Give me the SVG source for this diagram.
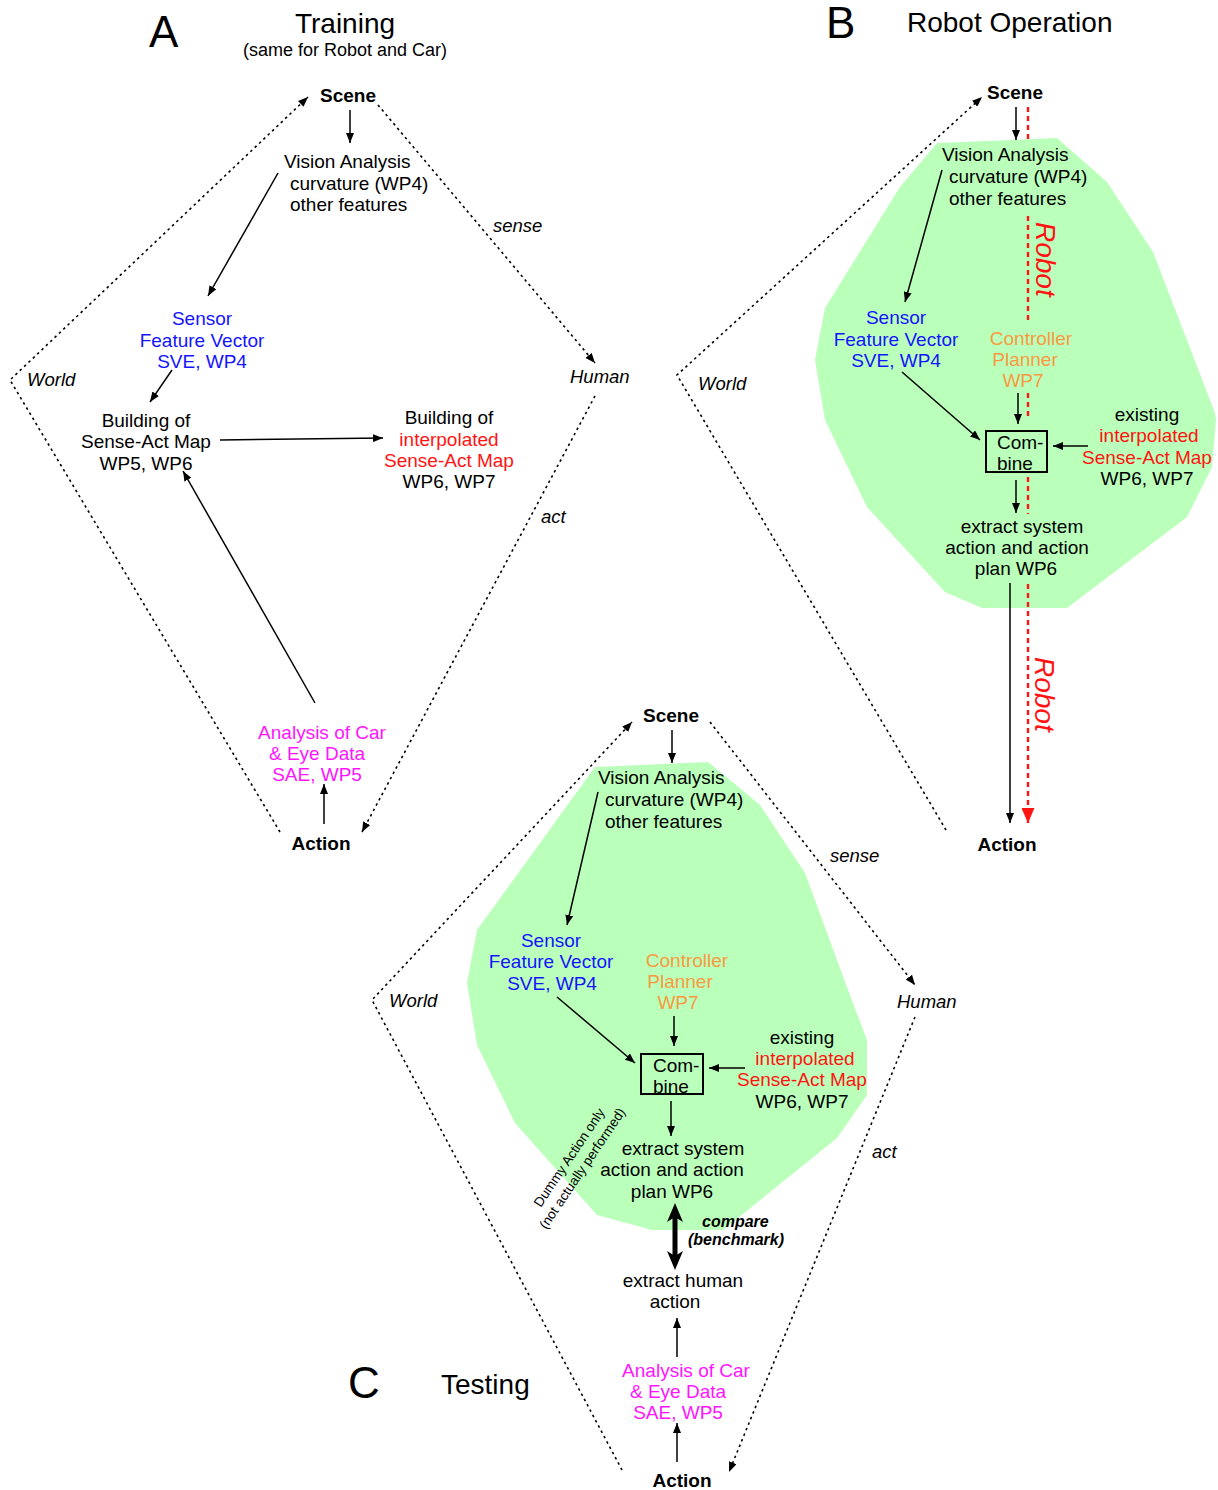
<svg xmlns="http://www.w3.org/2000/svg" width="1218" height="1490" viewBox="0 0 1218 1490">
  <style>
    text { font-family: "Liberation Sans", Arial, sans-serif; font-size: 19px; fill: #000; }
    .c { text-anchor: middle; }
    .bold { font-weight: bold; }
    .it { font-style: italic; font-size: 18.5px; }
    .letter { font-size: 44px; }
    .title { font-size: 28px; }
    .blue { fill: #1414ff; }
    .red { fill: #ff1414; }
    .mag { fill: #ff14ff; }
    .orange { fill: #f99a42; }
    .small { font-size: 13.5px; }
    .cmp { font-size: 16px; font-weight: bold; font-style: italic; }
    .robot { font-size: 28px; font-style: italic; fill: #ff1414; }
    .arrow { stroke: #000; stroke-width: 1.5; fill: none; marker-end: url(#ah); }
    .dot { stroke: #000; stroke-width: 1.6; fill: none; stroke-dasharray: 2.5 3.5; }
    .dota { marker-end: url(#ah); }
    .rdash { stroke: #ff1414; stroke-width: 2.4; fill: none; stroke-dasharray: 5 4; }
    .zone { fill: #baffba; stroke: none; }
    .box { fill: none; stroke: #000; stroke-width: 2; }
  </style>
  <defs>
    <marker id="ah" viewBox="0 0 10 8" refX="10" refY="4" markerWidth="10" markerHeight="8" orient="auto" markerUnits="userSpaceOnUse">
      <path d="M0,0 L10,4 L0,8 z" fill="#000"/>
    </marker>
    <marker id="ahr" viewBox="0 0 15 13" refX="15" refY="6.5" markerWidth="15" markerHeight="13" orient="auto" markerUnits="userSpaceOnUse">
      <path d="M0,0 L15,6.5 L0,13 z" fill="#ff1414"/>
    </marker>
  </defs>

  <!-- shaded system regions -->
  <g id="zone-b">
    <polygon class="zone" points="937,143 1057,138 1107,182 1153,252 1215,413 1216,420 1212,467 1187,517 1067,608 982,608 945,592 867,507 825,420 815,360 825,308 900,187"/>
  </g>
  <g id="zone-c">
    <polygon class="zone" points="595,767 708,762 760,805 805,873 848,990 867,1040 867,1095 837,1138 723,1230 652,1230 597,1215 515,1123 477,1045 467,983 477,930"/>
  </g>

  <!-- connectors -->
  <g id="connectors">
    <!-- A: world loop -->
    <polyline class="dot dota" points="280,832 10,380 308,97"/>
    <line class="dot dota" x1="378" y1="105" x2="595" y2="363"/>
    <line class="dot dota" x1="595" y1="396" x2="362" y2="832"/>
    <!-- A: processing -->
    <line class="arrow" x1="350" y1="110" x2="350" y2="143"/>
    <line class="arrow" x1="278" y1="173" x2="208" y2="296"/>
    <line class="arrow" x1="172" y1="370" x2="150" y2="402"/>
    <line class="arrow" x1="220" y1="440" x2="383" y2="438"/>
    <line class="arrow" x1="315" y1="703" x2="183" y2="471"/>
    <line class="arrow" x1="324" y1="824" x2="324" y2="784"/>

    <!-- B: world loop -->
    <polyline class="dot dota" points="946,830 677,375 982,97"/>
    <!-- B: processing -->
    <line class="arrow" x1="1016" y1="107" x2="1016" y2="140"/>
    <line class="arrow" x1="942" y1="170" x2="905" y2="302"/>
    <line class="arrow" x1="902" y1="372" x2="980" y2="440"/>
    <line class="arrow" x1="1018" y1="393" x2="1018" y2="424"/>
    <line class="arrow" x1="1088" y1="446" x2="1053" y2="446"/>
    <line class="arrow" x1="1016" y1="480" x2="1016" y2="513"/>
    <line class="arrow" x1="1010" y1="583" x2="1010" y2="823"/>
    <!-- B: robot path -->
    <line class="rdash" x1="1028" y1="107" x2="1028" y2="140"/>
    <line class="rdash" x1="1028" y1="216" x2="1028" y2="324"/>
    <line class="rdash" x1="1028" y1="393" x2="1028" y2="420"/>
    <line class="rdash" x1="1028" y1="477" x2="1028" y2="514"/>
    <line class="rdash" x1="1028" y1="584" x2="1028" y2="823" marker-end="url(#ahr)"/>

    <!-- C: world loop -->
    <polyline class="dot dota" points="622,1470 372,1000 632,722"/>
    <line class="dot dota" x1="710" y1="722" x2="915" y2="985"/>
    <line class="dot dota" x1="915" y1="1017" x2="729" y2="1472"/>
    <!-- C: processing -->
    <line class="arrow" x1="672" y1="730" x2="672" y2="763"/>
    <line class="arrow" x1="598" y1="792" x2="567" y2="925"/>
    <line class="arrow" x1="557" y1="997" x2="635" y2="1063"/>
    <line class="arrow" x1="674" y1="1016" x2="674" y2="1046"/>
    <line class="arrow" x1="745" y1="1068" x2="709" y2="1068"/>
    <line class="arrow" x1="671" y1="1101" x2="671" y2="1136"/>
    <line class="arrow" x1="677" y1="1357" x2="677" y2="1318"/>
    <line class="arrow" x1="677" y1="1462" x2="677" y2="1423"/>
    <!-- C: benchmark comparison -->
    <line x1="675" y1="1216" x2="675" y2="1257" stroke="#000" stroke-width="5"/>
    <path d="M675,1203 L683,1222 L675,1217 L667,1222 z" fill="#000"/>
    <path d="M675,1270 L683,1251 L675,1256 L667,1251 z" fill="#000"/>
  </g>

  <!-- panel headings -->
  <g id="heading-a">
    <text class="letter" x="149" y="47">A</text>
    <text class="title c" x="345" y="33">Training</text>
    <text class="c" x="345" y="56" style="font-size:18px">(same for Robot and Car)</text>
  </g>
  <g id="heading-b">
    <text class="letter" x="826" y="38">B</text>
    <text class="title" x="907" y="32">Robot Operation</text>
  </g>
  <g id="heading-c">
    <text class="letter" x="348" y="1398">C</text>
    <text class="title" x="441" y="1394">Testing</text>
  </g>

  <!-- panel A nodes -->
  <g id="a-scene"><text class="c bold" x="348" y="102">Scene</text></g>
  <g id="a-vision">
    <text x="284" y="168">Vision Analysis</text>
    <text x="290" y="190">curvature (WP4)</text>
    <text x="290" y="211">other features</text>
  </g>
  <g id="a-sensor">
    <text class="c blue" x="202" y="325">Sensor</text>
    <text class="c blue" x="202" y="347">Feature Vector</text>
    <text class="c blue" x="202" y="368">SVE, WP4</text>
  </g>
  <g id="a-build">
    <text class="c" x="146" y="427">Building of</text>
    <text class="c" x="146" y="448">Sense-Act Map</text>
    <text class="c" x="146" y="470">WP5, WP6</text>
  </g>
  <g id="a-interp">
    <text class="c" x="449" y="424">Building of</text>
    <text class="c red" x="449" y="446">interpolated</text>
    <text class="c red" x="449" y="467">Sense-Act Map</text>
    <text class="c" x="449" y="488">WP6, WP7</text>
  </g>
  <g id="a-analysis">
    <text class="c mag" x="322" y="739">Analysis of Car</text>
    <text class="c mag" x="317" y="760">&amp; Eye Data</text>
    <text class="c mag" x="317" y="781">SAE, WP5</text>
  </g>
  <g id="a-action"><text class="c bold" x="321" y="850">Action</text></g>
  <g id="a-labels">
    <text class="it" x="27" y="386">World</text>
    <text class="it" x="570" y="383">Human</text>
    <text class="it" x="493" y="232">sense</text>
    <text class="it" x="541" y="523">act</text>
  </g>

  <!-- panel B nodes -->
  <g id="b-scene"><text class="c bold" x="1015" y="99">Scene</text></g>
  <g id="b-vision">
    <text x="942" y="161">Vision Analysis</text>
    <text x="949" y="183">curvature (WP4)</text>
    <text x="949" y="205">other features</text>
  </g>
  <g id="b-sensor">
    <text class="c blue" x="896" y="324">Sensor</text>
    <text class="c blue" x="896" y="346">Feature Vector</text>
    <text class="c blue" x="896" y="367">SVE, WP4</text>
  </g>
  <g id="b-controller">
    <text class="c orange" x="1031" y="345">Controller</text>
    <text class="c orange" x="1025" y="366">Planner</text>
    <text class="c orange" x="1023" y="387">WP7</text>
  </g>
  <g id="b-combine">
    <rect class="box" x="986" y="431" width="61" height="41"/>
    <text x="997" y="449">Com-</text>
    <text x="997" y="470">bine</text>
  </g>
  <g id="b-map">
    <text class="c" x="1147" y="421">existing</text>
    <text class="c red" x="1149" y="442">interpolated</text>
    <text class="c red" x="1147" y="464">Sense-Act Map</text>
    <text class="c" x="1147" y="485">WP6, WP7</text>
  </g>
  <g id="b-extract">
    <text class="c" x="1022" y="533">extract system</text>
    <text class="c" x="1017" y="554">action and action</text>
    <text class="c" x="1016" y="575">plan WP6</text>
  </g>
  <g id="b-action"><text class="c bold" x="1007" y="851">Action</text></g>
  <g id="b-labels">
    <text class="it" x="698" y="390">World</text>
    <text class="robot" transform="translate(1036,222) rotate(90)">Robot</text>
    <text class="robot" transform="translate(1035,657) rotate(90)">Robot</text>
  </g>

  <!-- panel C nodes -->
  <g id="c-scene"><text class="c bold" x="671" y="722">Scene</text></g>
  <g id="c-vision">
    <text x="598" y="784">Vision Analysis</text>
    <text x="605" y="806">curvature (WP4)</text>
    <text x="605" y="828">other features</text>
  </g>
  <g id="c-sensor">
    <text class="c blue" x="551" y="947">Sensor</text>
    <text class="c blue" x="551" y="968">Feature Vector</text>
    <text class="c blue" x="552" y="990">SVE, WP4</text>
  </g>
  <g id="c-controller">
    <text class="c orange" x="687" y="967">Controller</text>
    <text class="c orange" x="680" y="988">Planner</text>
    <text class="c orange" x="678" y="1009">WP7</text>
  </g>
  <g id="c-combine">
    <rect class="box" x="641" y="1054" width="62" height="40"/>
    <text x="653" y="1072">Com-</text>
    <text x="653" y="1093">bine</text>
  </g>
  <g id="c-map">
    <text class="c" x="802" y="1044">existing</text>
    <text class="c red" x="805" y="1065">interpolated</text>
    <text class="c red" x="802" y="1086">Sense-Act Map</text>
    <text class="c" x="802" y="1108">WP6, WP7</text>
  </g>
  <g id="c-extract">
    <text class="c" x="683" y="1155">extract system</text>
    <text class="c" x="672" y="1176">action and action</text>
    <text class="c" x="672" y="1198">plan WP6</text>
  </g>
  <g id="c-dummy">
    <text class="c small" transform="translate(573,1160) rotate(-56)">Dummy Action only</text>
    <text class="c small" transform="translate(586,1171) rotate(-56)">(not actually performed)</text>
  </g>
  <g id="c-compare">
    <text class="cmp" x="702" y="1227">compare</text>
    <text class="cmp" x="688" y="1245">(benchmark)</text>
  </g>
  <g id="c-human">
    <text class="c" x="683" y="1287">extract human</text>
    <text class="c" x="675" y="1308">action</text>
  </g>
  <g id="c-analysis">
    <text class="c mag" x="686" y="1377">Analysis of Car</text>
    <text class="c mag" x="678" y="1398">&amp; Eye Data</text>
    <text class="c mag" x="678" y="1419">SAE, WP5</text>
  </g>
  <g id="c-action"><text class="c bold" x="682" y="1487">Action</text></g>
  <g id="c-labels">
    <text class="it" x="389" y="1007">World</text>
    <text class="it" x="897" y="1008">Human</text>
    <text class="it" x="830" y="862">sense</text>
    <text class="it" x="872" y="1158">act</text>
  </g>
</svg>
